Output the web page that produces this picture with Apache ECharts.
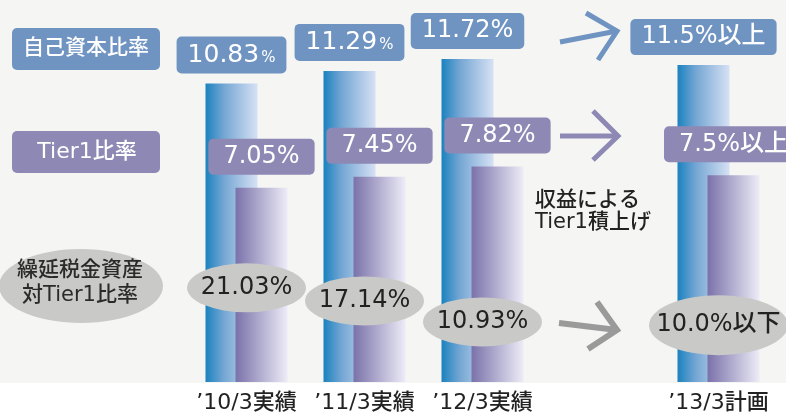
<!DOCTYPE html>
<html>
<head>
<meta charset="utf-8">
<title>自己資本比率</title>
<script src="https://cdn.jsdelivr.net/npm/echarts@6/dist/echarts.min.js"></script>
<style>
  html, body { margin: 0; padding: 0; background: #ffffff; }
  #main { width: 786px; height: 414px; }
</style>
</head>
<body>
<div id="main"></div>
<script>
  // 年度（4番目は矢印用の空き）
  var categories = ['\u201910/3実績', '\u201911/3実績', '\u201912/3実績', '', '\u201913/3計画'];
  // 自己資本比率
  var capitalRatio = [10.83, 11.29, 11.72, '-', 11.5];
  // Tier1比率
  var tier1Ratio = [7.05, 7.45, 7.82, '-', 7.5];
  // 繰延税金資産対Tier1比率
  var dtaRatio = [21.03, 17.14, 10.93, '-', 10.0];
  // 計画値の添え字
  var planSuffix = { capital: '以上', tier1: '以上', dta: '以下' };
  var rowNames = ['自己資本比率', 'Tier1比率', '繰延税金資産\n対Tier1比率'];
  var noteText = '収益による\nTier1積上げ';

  var FONT = "'DejaVu Sans', 'Noto Sans CJK JP', sans-serif";
  var BLUE = '#7094c1', PURPLE = '#8e88b5', GRAY = '#c9c9c7';

  // 実績は小数2桁、計画は小数1桁＋添え字
  function fmt(v, i, suffix) {
    return i === 4 ? v.toFixed(1) + '%' + suffix : v.toFixed(2) + '%';
  }

  var myChart = echarts.init(document.getElementById('main'));
  var option = {
    backgroundColor: '#ffffff',
    animation: false,
    grid: { left: 187.5, right: 8.5, top: 10, bottom: 31 },
    xAxis: {
      type: 'category',
      data: categories,
      axisLine: { show: false },
      axisTick: { show: false },
      axisLabel: { fontSize: 22, color: '#222', fontFamily: FONT, fontWeight: 500, margin: 10, interval: 0 }
    },
    yAxis: [
      { type: 'value', min: 0, max: 13.5, show: false },
      { type: 'value', min: -6.8, max: 103.1, show: false }
    ],
    graphic: [
      { type: 'rect', z: -10, silent: true, shape: { x: 0, y: 0, width: 786, height: 383 }, style: { fill: '#f5f5f3' } },
      // 行見出し
      { type: 'rect', shape: { x: 12, y: 28, width: 148, height: 42, r: 5 }, style: { fill: BLUE } },
      { type: 'text', x: 86, y: 49, style: { text: rowNames[0], fill: '#fff', font: '500 21px ' + FONT, textAlign: 'center', textVerticalAlign: 'middle' } },
      { type: 'rect', shape: { x: 12, y: 131, width: 148, height: 42, r: 5 }, style: { fill: PURPLE } },
      { type: 'text', x: 87, y: 152, style: { text: rowNames[1], fill: '#fff', font: '500 22px ' + FONT, textAlign: 'center', textVerticalAlign: 'middle' } },
      { type: 'ellipse', shape: { cx: 81, cy: 286, rx: 82, ry: 37 }, style: { fill: GRAY } },
      { type: 'text', x: 80, y: 283, style: { text: rowNames[2], fill: '#2a2a2a', font: '500 21px ' + FONT, textAlign: 'center', textVerticalAlign: 'middle', lineHeight: 25 } },
      // 矢印
      { type: 'polyline', shape: { points: [[560, 42], [617, 31]] }, style: { stroke: BLUE, lineWidth: 5, fill: null } },
      { type: 'polyline', shape: { points: [[586, 13], [617, 31], [598, 60]] }, style: { stroke: BLUE, lineWidth: 5, fill: null } },
      { type: 'polyline', shape: { points: [[560, 136], [618, 136]] }, style: { stroke: PURPLE, lineWidth: 5, fill: null } },
      { type: 'polyline', shape: { points: [[593, 111], [618, 136], [593, 160]] }, style: { stroke: PURPLE, lineWidth: 5, fill: null } },
      { type: 'polyline', shape: { points: [[559, 323], [617, 330]] }, style: { stroke: '#9a9a9a', lineWidth: 6, fill: null } },
      { type: 'polyline', shape: { points: [[597, 302], [617, 330], [588, 349]] }, style: { stroke: '#9a9a9a', lineWidth: 6, fill: null } },
      { type: 'text', x: 535, y: 212, style: { text: noteText, fill: '#222', font: '500 21px ' + FONT, textVerticalAlign: 'middle', lineHeight: 22 } }
    ],
    series: [
      {
        name: rowNames[0],
        type: 'bar',
        data: capitalRatio,
        barWidth: 52,
        barGap: '-42.3%',
        itemStyle: {
          color: {
            type: 'linear', x: 0, y: 0, x2: 1, y2: 0,
            colorStops: [
              { offset: 0, color: '#1a82bf' },
              { offset: 0.35, color: '#74a6d3' },
              { offset: 1, color: '#d6e1f4' }
            ]
          }
        },
        label: {
          show: true,
          position: 'top',
          distance: 10,
          backgroundColor: BLUE,
          borderRadius: 5,
          padding: [6, 11, 6, 11],
          color: '#fff',
          fontSize: 24,
          fontWeight: 500,
          fontFamily: FONT,
          formatter: function (p) {
            if (p.dataIndex < 2) return '{v|' + p.value.toFixed(2) + '}{p|%}';
            return fmt(p.value, p.dataIndex, planSuffix.capital);
          },
          rich: {
            v: { fontSize: 25, color: '#fff', fontFamily: FONT, fontWeight: 500 },
            p: { fontSize: 15, color: '#fff', fontFamily: FONT, fontWeight: 500, verticalAlign: 'bottom', padding: [0, 0, 2, 2] }
          }
        }
      },
      {
        name: rowNames[1],
        type: 'bar',
        data: tier1Ratio,
        barWidth: 52,
        barGap: '-42.3%',
        itemStyle: {
          color: {
            type: 'linear', x: 0, y: 0, x2: 1, y2: 0,
            colorStops: [
              { offset: 0, color: '#7a72aa' },
              { offset: 1, color: '#edecf7' }
            ]
          }
        },
        label: {
          show: true,
          position: 'top',
          distance: 13,
          backgroundColor: PURPLE,
          borderRadius: 5,
          padding: [6, 15, 6, 15],
          color: '#fff',
          fontSize: 24,
          fontWeight: 500,
          fontFamily: FONT,
          formatter: function (p) { return fmt(p.value, p.dataIndex, planSuffix.tier1); }
        }
      },
      {
        name: rowNames[2],
        type: 'scatter',
        yAxisIndex: 1,
        z: 5,
        data: dtaRatio,
        symbol: 'circle',
        symbolSize: function (v, p) { return p.dataIndex === 4 ? [139, 60] : [119, 49]; },
        itemStyle: { color: GRAY, opacity: 1 },
        label: {
          show: true,
          position: 'inside',
          color: '#222',
          fontSize: 24,
          fontWeight: 500,
          fontFamily: FONT,
          formatter: function (p) { return fmt(p.value, p.dataIndex, planSuffix.dta); }
        }
      }
    ]
  };
  myChart.setOption(option);
  window.addEventListener('resize', function () {
    myChart.resize();
  });
</script>
</body>
</html>
